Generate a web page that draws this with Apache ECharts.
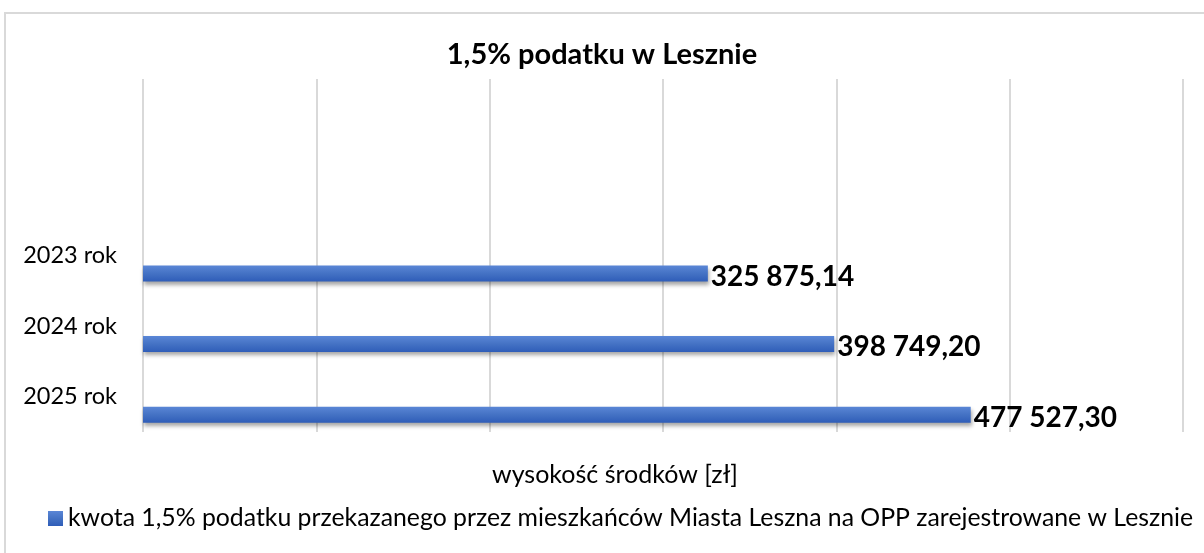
<!DOCTYPE html>
<html>
<head>
<meta charset="utf-8">
<script src="https://cdn.jsdelivr.net/npm/echarts@6/dist/echarts.min.js"></script>
<style>
  html, body { margin: 0; padding: 0; background: #fff; }
  #chart { width: 1204px; height: 553px; }
</style>
</head>
<body>
<div id="chart"></div>
<script>
const categories = ['2023 rok', '2024 rok', '2025 rok']
const values = [325875.14, 398749.20, 477527.30]
const seriesName = 'kwota 1,5% podatku przekazanego przez mieszkańców Miasta Leszna na OPP zarejestrowane w Lesznie'
const axisTitle = 'wysokość środków [zł]'
const chartTitle = '1,5% podatku w Lesznie'

const font = 'Lato, "Open Sans", sans-serif'

// excel sheet had two empty rows above, category axis goes bottom-up
const yData = categories.slice().reverse().concat(['', ''])
const xData = values.slice().reverse().concat([null, null])

const barColor = new echarts.graphic.LinearGradient(0, 0, 0, 1, [
  { offset: 0, color: '#5a86d6' },
  { offset: 0.5, color: '#4472c4' },
  { offset: 1, color: '#2f5db8' }
])

function fmt(v) {
  const parts = v.toFixed(2).split('.')
  return parts[0].replace(/\B(?=(\d{3})+(?!\d))/g, ' ') + ',' + parts[1]
}

const chart = echarts.init(document.getElementById('chart'))

chart.setOption({
  animation: false,
  title: {
    text: chartTitle,
    left: 'center',
    top: 35,
    textStyle: { fontFamily: font, fontSize: 29, fontWeight: 'bold', color: '#000' }
  },
  graphic: [{
    type: 'rect',
    shape: { x: 5, y: 13, width: 1400, height: 700 },
    style: { fill: 'none', stroke: '#d9d9d9', lineWidth: 2 },
    silent: true
  }],
  legend: {
    data: [seriesName],
    left: 43,
    top: 501,
    itemWidth: 15,
    itemHeight: 15,
    icon: 'rect',
    itemGap: 6,
    textStyle: { fontFamily: font, fontSize: 24.8, color: '#000' }
  },
  grid: { left: 143, right: 21, top: 79, bottom: 121 },
  xAxis: {
    type: 'value',
    min: 0,
    max: 600000,
    interval: 100000,
    axisLabel: { show: false },
    axisLine: { show: false },
    axisTick: { show: false },
    splitLine: { lineStyle: { color: '#d9d9d9', width: 2 } },
    name: axisTitle,
    nameLocation: 'middle',
    nameGap: 30,
    nameTextStyle: { fontFamily: font, fontSize: 25, color: '#000', padding: [0, 96, 0, 0] }
  },
  yAxis: {
    type: 'category',
    data: yData,
    axisLine: { show: false },
    axisTick: { show: false },
    splitLine: { show: false },
    axisLabel: { margin: 26, fontFamily: font, fontSize: 23.5, color: '#000' }
  },
  series: [{
    // empty series so the real bars sit in the lower half of each row
    name: 'empty',
    type: 'bar',
    data: [null, null, null, null, null],
    barWidth: 16
  }, {
    name: seriesName,
    type: 'bar',
    data: xData,
    barWidth: 16,
    barGap: '125%',
    itemStyle: {
      color: barColor,
      shadowColor: 'rgba(0,0,0,0.35)',
      shadowBlur: 4,
      shadowOffsetY: 3,
      shadowOffsetX: 1
    },
    label: {
      show: true,
      position: 'right',
      distance: 3,
      offset: [0, 3],
      formatter: p => fmt(p.value),
      fontFamily: font,
      fontSize: 28,
      fontWeight: 'bold',
      color: '#000'
    }
  }]
})
</script>
</body>
</html>
